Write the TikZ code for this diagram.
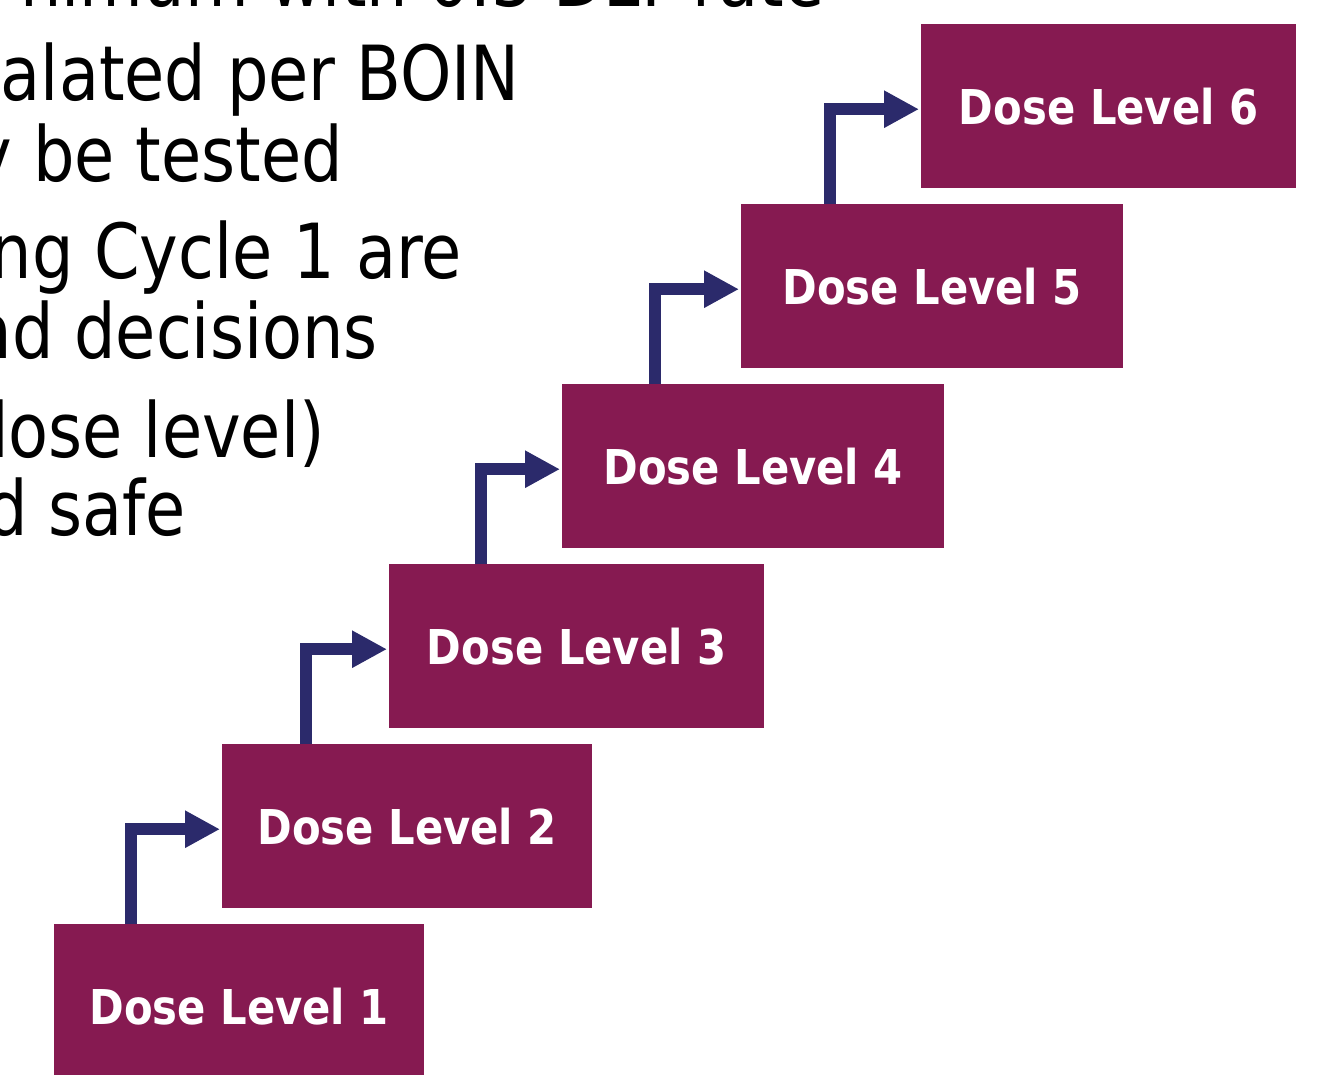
\documentclass[tikz,border=0pt]{standalone}
\usepackage{fontspec}
\setmainfont{DejaVu Sans}
\newfontfamily\boxfont[FakeStretch=0.87]{DejaVu Sans Bold}
\newfontfamily\leftfont[FakeStretch=0.86]{DejaVu Sans}
\usetikzlibrary{arrows.meta}
\definecolor{boxfill}{HTML}{861A51}
\definecolor{arrcol}{HTML}{2B2A6B}
\tikzset{
  dl/.style={rectangle, fill=boxfill, draw=none, inner sep=0pt, anchor=north west,
    minimum height=164pt, text=white, font=\boxfont\fontsize{48}{56}\selectfont},
  lt/.style={anchor=base east, inner sep=0pt, text=black, font=\leftfont\fontsize{76}{90}\selectfont},
  arr/.style={draw=arrcol, line width=12pt, line join=miter, line cap=butt,
    -{Triangle[length=35pt,width=35pt]}, shorten >=2pt},
}
\begin{document}
\begin{tikzpicture}[x=1pt,y=-1pt]
\useasboundingbox (0,0) rectangle (1331,1074);
\clip (0,0) rectangle (1331,1074);
% left text (cropped slide text)
\node[lt] (t0) at (825,6) {nimum with 0.3 DLT rate};
\node[lt] (t1) at (520,100) {alated per BOIN};
\node[lt] (t2) at (343,181) {y be tested};
\node[lt] (t3) at (462,278) {ng Cycle 1 are};
\node[lt] (t4) at (378,358) {nd decisions};
\node[lt] (t5) at (325,457) {dose level)};
\node[lt] (t6) at (186,535) {d safe};
% boxes
\node[dl, minimum width=370pt] (b1) at (54,924) {Dose Level 1};
\node[dl, minimum width=370pt] (b2) at (222,744) {Dose Level 2};
\node[dl, minimum width=375pt] (b3) at (389,564) {Dose Level 3};
\node[dl, minimum width=382pt] (b4) at (562,384) {Dose Level 4};
\node[dl, minimum width=382pt] (b5) at (741,204) {Dose Level 5};
\node[dl, minimum width=375pt] (b6) at (921,24) {Dose Level 6};
% arrows
\draw[arr] ([xshift=77pt]b1.north west) |- ([yshift=-3pt]b2.west);
\draw[arr] ([xshift=84pt]b2.north west) |- ([yshift=-3pt]b3.west);
\draw[arr] ([xshift=92pt]b3.north west) |- ([yshift=-3pt]b4.west);
\draw[arr] ([xshift=93pt]b4.north west) |- ([yshift=-3pt]b5.west);
\draw[arr] ([xshift=89pt]b5.north west) |- ([yshift=-3pt]b6.west);
\end{tikzpicture}
\end{document}
